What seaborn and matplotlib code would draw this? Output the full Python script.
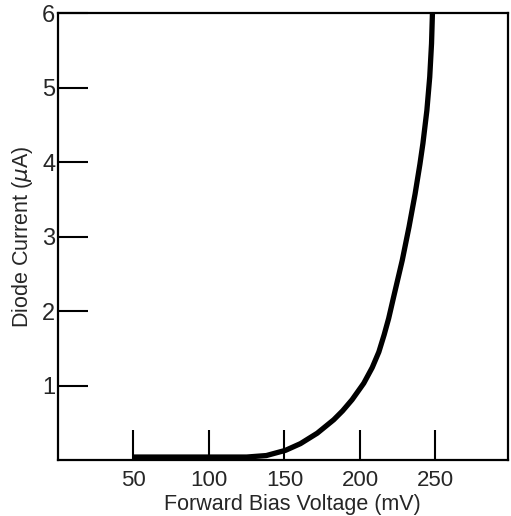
import seaborn as sns
import matplotlib.pyplot as plt

# values
voltage_mv = [50, 100, 125, 138, 150.7, 160.6, 171.7, 182.6, 188.5, 194.8,
              202.5, 208.1, 212.5, 216.0, 219.0, 222.2, 228.0, 232.5, 236.5,
              239.7, 241.7, 244.3, 246.2, 247.4, 248.0]
current_ua = [0.04, 0.04, 0.04, 0.06, 0.13, 0.22, 0.36, 0.54, 0.66, 0.81,
              1.03, 1.24, 1.45, 1.68, 1.90, 2.18, 2.68, 3.13, 3.57,
              3.97, 4.25, 4.69, 5.14, 5.59, 6.0]
x_ticks = [50, 100, 150, 200, 250]
y_ticks = [1, 2, 3, 4, 5, 6]

sns.set_style("ticks")
plt.rcParams['font.family'] = ['Liberation Sans', 'DejaVu Sans']

fig = plt.figure(figsize=(5.11, 5.16), dpi=100)
ax = fig.add_axes([0.1135, 0.1085, 0.8805, 0.8663])

sns.lineplot(x=voltage_mv, y=current_ua, color="black", linewidth=3.8,
             solid_capstyle="butt", solid_joinstyle="round", ax=ax)

ax.set_xlim(0, 298)
ax.set_ylim(0, 6)
ax.set_xticks(x_ticks)
ax.set_yticks(y_ticks)
ax.tick_params(direction="in", length=21.5, width=1.5, color="black")
ax.tick_params(axis="x", labelsize=16, pad=7)
ax.tick_params(axis="y", labelsize=17, pad=2)

for side in ["left", "right", "top", "bottom"]:
    ax.spines[side].set_visible(True)
    ax.spines[side].set_linewidth(1.6)
    ax.spines[side].set_color("black")

ax.set_xlabel("Forward Bias Voltage (mV)", fontsize=15.5, labelpad=1)
ax.xaxis.set_label_coords(0.522, -0.075)
ax.set_ylabel("Diode Current ($\\mu$A)", fontsize=15.5, labelpad=5)

plt.savefig("out.png", dpi=100)
